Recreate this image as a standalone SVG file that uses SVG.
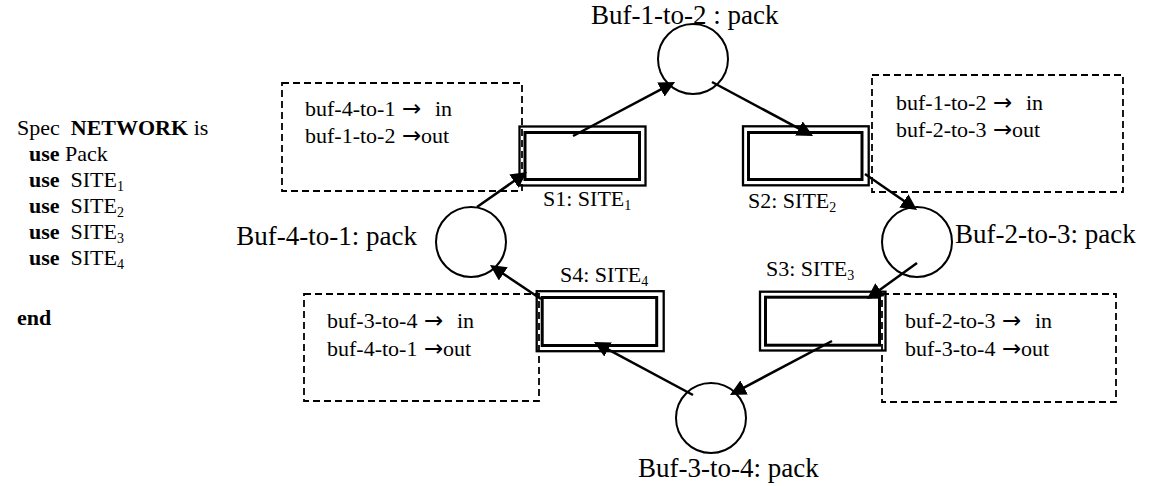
<svg xmlns="http://www.w3.org/2000/svg" width="1154" height="486" viewBox="0 0 1154 486">
<style>
text{font-family:"Liberation Serif","Times New Roman",serif;fill:#000;white-space:pre}
.t{font-size:22px}
.big{font-size:27px}
.b{font-weight:bold}
.sub{font-size:14px}
.ar{font-family:"DejaVu Sans ExtraLight","DejaVu Sans",sans-serif;font-size:23px}
.circ{fill:none;stroke:#000;stroke-width:2}
.out{fill:#fff;stroke:#000;stroke-width:2.3}
.in{fill:none;stroke:#000;stroke-width:3}
.note{fill:none;stroke:#000;stroke-width:1.8;stroke-dasharray:7 4}
.con{stroke:#000;stroke-width:2.5;fill:none;marker-end:url(#ah)}
</style>
<defs>
<marker id="ah" markerUnits="userSpaceOnUse" viewBox="0 0 16 16" markerWidth="16" markerHeight="16" refX="6" refY="8" orient="auto">
<path d="M0,0 L16,8 L0,16 z" fill="#000"/>
</marker>
</defs>
<rect width="1154" height="486" fill="#fff"/>

<g id="spec">
<text class="t" x="17" y="135">Spec  <tspan class="b">NETWORK</tspan> is</text>
<text class="t" x="29" y="161"><tspan class="b">use</tspan> Pack</text>
<text class="t" x="29" y="187"><tspan class="b">use</tspan>  SITE<tspan class="sub" dy="4">1</tspan></text>
<text class="t" x="29" y="213"><tspan class="b">use</tspan>  SITE<tspan class="sub" dy="4">2</tspan></text>
<text class="t" x="29" y="239"><tspan class="b">use</tspan>  SITE<tspan class="sub" dy="4">3</tspan></text>
<text class="t" x="29" y="265"><tspan class="b">use</tspan>  SITE<tspan class="sub" dy="4">4</tspan></text>
<text class="t b" x="17" y="325">end</text>
</g>

<g id="buf-1-to-2">
<circle class="circ" cx="693" cy="59" r="35"/>
<text class="big" x="591" y="24">Buf-1-to-2 : pack</text>
</g>
<g id="buf-2-to-3">
<circle class="circ" cx="917" cy="242" r="35"/>
<text class="big" x="955" y="243">Buf-2-to-3: pack</text>
</g>
<g id="buf-3-to-4">
<circle class="circ" cx="711" cy="418" r="35"/>
<text class="big" x="638" y="477">Buf-3-to-4: pack</text>
</g>
<g id="buf-4-to-1">
<circle class="circ" cx="471" cy="242" r="35"/>
<text class="big" x="417" y="245" text-anchor="end">Buf-4-to-1: pack</text>
</g>

<g id="s1">
<rect class="out" x="519.5" y="126.5" width="126" height="59"/>
<rect class="in" x="525" y="132.5" width="114.5" height="47"/>
<text class="t" x="543" y="206">S1: SITE<tspan class="sub" dy="4">1</tspan></text>
</g>
<g id="s2">
<rect class="out" x="743" y="126.3" width="125.7" height="59"/>
<rect class="in" x="748.5" y="132.5" width="113.5" height="47"/>
<text class="t" x="748" y="208">S2: SITE<tspan class="sub" dy="4">2</tspan></text>
</g>
<g id="s3">
<rect class="out" x="760" y="291.7" width="125.5" height="58.8"/>
<rect class="in" x="765.5" y="297.2" width="114" height="48"/>
<text class="t" x="766" y="276">S3: SITE<tspan class="sub" dy="4">3</tspan></text>
</g>
<g id="s4">
<rect class="out" x="536.7" y="291.2" width="127" height="60"/>
<rect class="in" x="542.2" y="297.5" width="114.5" height="48"/>
<text class="t" x="560" y="282">S4: SITE<tspan class="sub" dy="4">4</tspan></text>
</g>

<g id="note-s1">
<rect class="note" x="282" y="83" width="240" height="108"/>
<text class="t" x="305" y="116">buf-4-to-1<tspan class="ar" x="402">→</tspan><tspan x="435">in</tspan></text>
<text class="t" x="305" y="143">buf-1-to-2<tspan class="ar" x="402">→</tspan><tspan x="421">out</tspan></text>
</g>
<g id="note-s2">
<rect class="note" x="872" y="75" width="251" height="117"/>
<text class="t" x="896" y="110">buf-1-to-2<tspan class="ar" x="993">→</tspan><tspan x="1026">in</tspan></text>
<text class="t" x="896" y="137">buf-2-to-3<tspan class="ar" x="993">→</tspan><tspan x="1012">out</tspan></text>
</g>
<g id="note-s3">
<rect class="note" x="882" y="294" width="234" height="108"/>
<text class="t" x="905" y="328">buf-2-to-3<tspan class="ar" x="1002">→</tspan><tspan x="1035">in</tspan></text>
<text class="t" x="905" y="356">buf-3-to-4<tspan class="ar" x="1002">→</tspan><tspan x="1021">out</tspan></text>
</g>
<g id="note-s4">
<rect class="note" x="304" y="294" width="235" height="107"/>
<text class="t" x="327" y="328">buf-3-to-4<tspan class="ar" x="424">→</tspan><tspan x="457">in</tspan></text>
<text class="t" x="327" y="356">buf-4-to-1<tspan class="ar" x="424">→</tspan><tspan x="443">out</tspan></text>
</g>

<g id="connectors">
<line class="con" x1="573" y1="136" x2="666.2" y2="86.7"/>
<line class="con" x1="712" y1="82" x2="804.2" y2="131.3"/>
<line class="con" x1="865" y1="174" x2="908.8" y2="204.3"/>
<line class="con" x1="917" y1="263" x2="875.1" y2="293.2"/>
<line class="con" x1="832" y1="341" x2="738.8" y2="390.3"/>
<line class="con" x1="693" y1="395" x2="602.8" y2="346.7"/>
<line class="con" x1="541" y1="299" x2="498.3" y2="270.5"/>
<line class="con" x1="477" y1="207" x2="518.8" y2="177.7"/>
</g>
</svg>
